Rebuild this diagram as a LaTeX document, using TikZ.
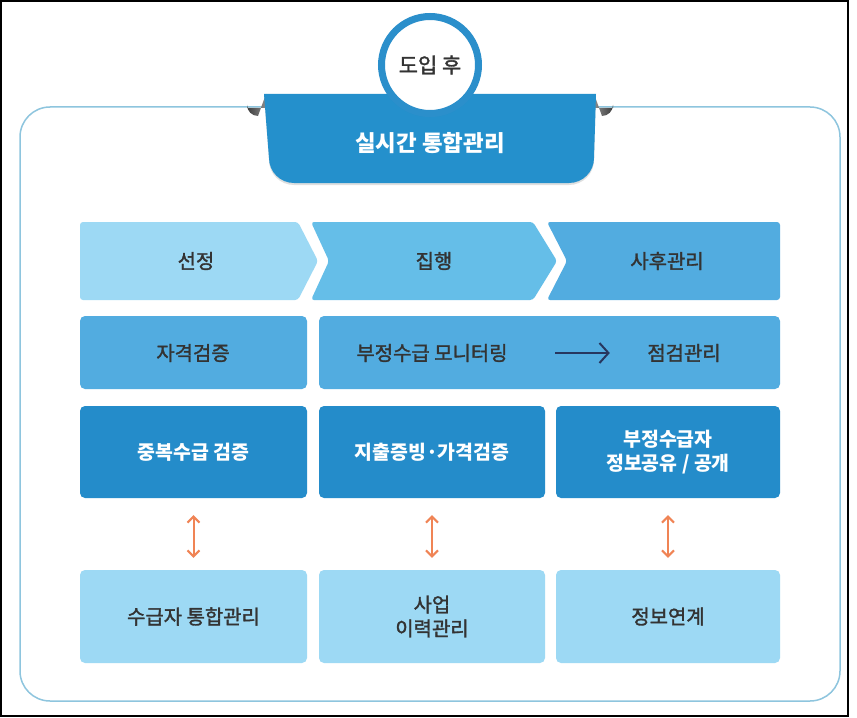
\documentclass[tikz,border=0pt]{standalone}
\usepackage{fontspec}
\setmainfont{Noto Sans CJK KR}
\newfontfamily\medfont[FakeBold=1.6]{Noto Sans CJK KR}
\usetikzlibrary{arrows.meta,shadows}
\definecolor{cLight}{HTML}{9DD9F4}
\definecolor{cMid}{HTML}{65BEE8}
\definecolor{cMed}{HTML}{52ACE0}
\definecolor{cDark}{HTML}{248CCA}
\definecolor{cBanner}{HTML}{2490CC}
\definecolor{cRing}{HTML}{2B8FCB}
\definecolor{cText}{HTML}{333333}
\definecolor{cFrame}{HTML}{8EC5DE}
\definecolor{cOrange}{HTML}{F08455}
\definecolor{cNavy}{HTML}{27375F}
\definecolor{cTabA}{HTML}{3C3C3C}
\definecolor{cTabB}{HTML}{8C8C8C}
\tikzset{
  darktxt/.style={text=cText,font=\medfont\fontsize{20}{24}\selectfont,align=center},
  whitetxt/.style={text=white,font=\bfseries\fontsize{19.5}{24}\selectfont,align=center},
  boxfill/.style={rounded corners=5bp},
  linkarrow/.style={draw=cOrange,line width=2bp,{Straight Barb[length=6bp,width=12bp]}-{Straight Barb[length=6bp,width=12bp]}},
}
\begin{document}
\begin{tikzpicture}[x=1bp,y=-1bp]
\useasboundingbox (0,0) rectangle (857,718);
\fill[white] (0,0) rectangle (857,718);
% outer black frame
\draw[black,line width=1.5bp] (1,1) rectangle (848,716);
% outer rounded panel
\draw[cFrame,line width=1.5bp,rounded corners=30bp] (20,107) rectangle (840,701);
% banner tabs
\shade[left color=cTabA,right color=cTabB] (247,108) -- (247,105) arc[start angle=180,end angle=90,radius=11] -- (266,94) -- (266,108) -- cycle;
\shade[right color=cTabA,left color=cTabB] (613,108) -- (613,105) arc[start angle=0,end angle=90,radius=11] -- (594,94) -- (594,108) -- cycle;
% banner
\fill[cBanner,drop shadow={shadow xshift=0bp,shadow yshift=-2bp,opacity=0.25}] (264,94) -- (596,94) -- (594,158) arc[start angle=0,end angle=90,radius=25] -- (294,183) arc[start angle=90,end angle=180,radius=25] -- cycle;
\node[text=white,font=\bfseries\fontsize{22.5}{26}\selectfont] (banner) at (430,143) {실시간 통합관리};
% circle
\node[circle,draw=cRing,line width=7bp,fill=white,minimum size=97bp,inner sep=0pt,
      drop shadow={shadow xshift=0bp,shadow yshift=-3bp,opacity=0.3},
      text=cText,font=\medfont\fontsize{21}{25}\selectfont] (after) at (430,65) {도입 후};
% chevrons
\fill[cLight,rounded corners=3bp] (80,222) -- (298,222) -- (318,261) -- (298,300) -- (80,300) -- cycle;
\fill[cMid,rounded corners=3bp] (311,222) -- (533,222) -- (557,261) -- (533,300) -- (311,300) -- (329,261) -- cycle;
\fill[cMed,rounded corners=3bp] (547,222) -- (780,222) -- (780,300) -- (547,300) -- (567,261) -- cycle;
\node[darktxt] (sel) at (196,261) {선정};
\node[darktxt] (exe) at (434,261) {집행};
\node[darktxt] (post) at (667,261) {사후관리};
% row 2
\fill[cMed,boxfill] (80,316) rectangle (307,389);
\fill[cMed,boxfill] (319,316) rectangle (780,389);
\node[darktxt] (qual) at (193,353) {자격검증};
\node[darktxt] (mon) at (432,353) {부정수급 모니터링};
\node[darktxt] (chk) at (684,353) {점검관리};
\draw[cNavy,line width=2.2bp,-{Straight Barb[length=9bp,width=20bp,line width=2bp]},shorten <=44bp,shorten >=34bp] (mon.east) -- (chk.west);
% row 3
\fill[cDark,boxfill] (80,406) rectangle (307,498);
\fill[cDark,boxfill] (319,406) rectangle (545,498);
\fill[cDark,boxfill] (556,406) rectangle (780,498);
\node[whitetxt,minimum width=227bp,minimum height=92bp] (dup) at (193.5,452) {중복수급 검증};
\node[whitetxt,minimum width=226bp,minimum height=92bp] (exp) at (432,452) {지출증빙·가격검증};
\node[whitetxt,minimum width=224bp,minimum height=92bp] (share) at (668,452) {부정수급자\\정보공유 / 공개};
% row 4
\fill[cLight,boxfill] (80,570) rectangle (307,663);
\fill[cLight,boxfill] (319,570) rectangle (545,663);
\fill[cLight,boxfill] (556,570) rectangle (780,663);
\node[darktxt,minimum width=227bp,minimum height=93bp] (rcv) at (193.5,616.5) {수급자 통합관리};
\node[darktxt,minimum width=226bp,minimum height=93bp] (hist) at (432,616.5) {사업\\이력관리};
\node[darktxt,minimum width=224bp,minimum height=93bp] (link) at (668,616.5) {정보연계};
% link arrows
\draw[linkarrow,shorten <=17bp,shorten >=12bp] (dup.south) -- (rcv.north);
\draw[linkarrow,shorten <=17bp,shorten >=12bp] (exp.south) -- (hist.north);
\draw[linkarrow,shorten <=17bp,shorten >=12bp] (share.south) -- (link.north);
\end{tikzpicture}
\end{document}
